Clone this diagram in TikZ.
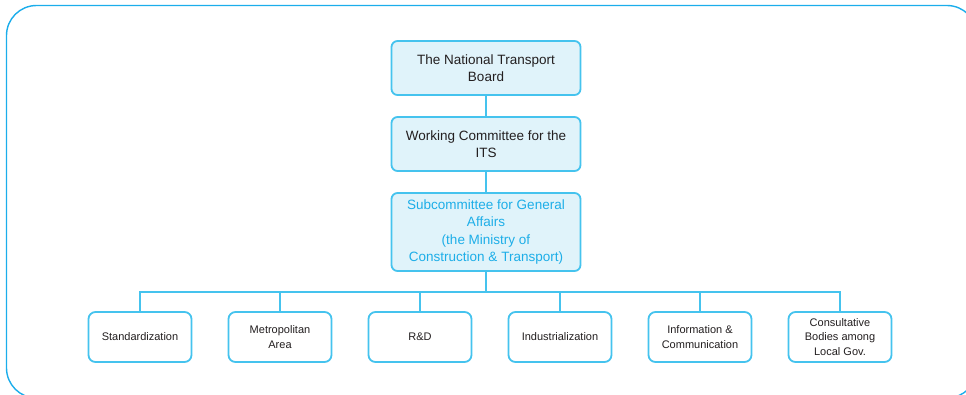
\documentclass[tikz,border=0pt]{standalone}
\usepackage{fontspec}
\setmainfont{Liberation Sans}
\usepackage{tikz}

\definecolor{framecyan}{HTML}{1BADEB}
\definecolor{boxline}{HTML}{45C3EE}
\definecolor{boxfill}{HTML}{E0F3FA}
\definecolor{subtext}{HTML}{1DAEE8}
\definecolor{inktext}{HTML}{231F20}

\begin{document}
\begin{tikzpicture}[x=1pt,y=1pt,
  topbox/.style={draw=boxline,line width=1.8pt,fill=boxfill,rounded corners=6pt,
    minimum width=189pt,minimum height=54pt,align=center,inner sep=2pt,
    text=inktext,font=\fontsize{13.5}{17.5}\selectfont},
  unitbox/.style={draw=boxline,line width=1.8pt,fill=white,rounded corners=7pt,
    minimum width=103pt,minimum height=50pt,align=center,inner sep=2pt,xshift=4pt,
    text=inktext,font=\fontsize{11}{14.5}\selectfont},
  edge from parent/.style={draw=boxline,line width=1.8pt},
  level 1/.style={level distance=76pt},
  level 2/.style={level distance=88pt},
  level 3/.style={level distance=105pt,sibling distance=140pt,
    edge from parent path={(\tikzparentnode.south) -- ++(0,-20pt) -| (\tikzchildnode.north)}}]
  \useasboundingbox (0,0) rectangle (966,-394);
  \draw [framecyan,line width=1.4pt,rounded corners=30pt] (6.5,-5.5) rectangle (977,-398);
  \node [topbox] (board) at (486,-68) {The National Transport\\Board}
    child {
      node [topbox] (wc) {Working Committee for the\\ITS}
        child {
          node [topbox,minimum height=78pt,text=subtext] (sub)
            {Subcommittee for General\\Affairs\\(the Ministry of\\Construction \& Transport)}
            child {node [unitbox] (std) {Standardization}}
            child {node [unitbox] (metro) {Metropolitan\\Area}}
            child {node [unitbox] (rnd) {R\&D}}
            child {node [unitbox] (ind) {Industrialization}}
            child {node [unitbox] (info) {Information \&\\Communication}}
            child {node [unitbox] (local) {Consultative\\Bodies among\\Local Gov.}}
        }
    }
;
\end{tikzpicture}
\end{document}
